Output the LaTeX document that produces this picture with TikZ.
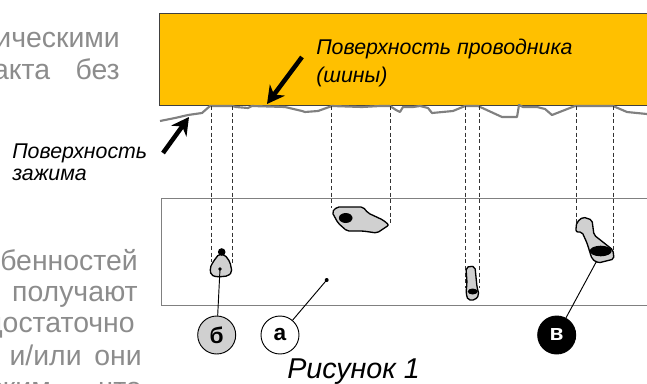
\documentclass[tikz,border=0pt]{standalone}
\usepackage{fontspec}
\usepackage{xcolor}
\setmainfont{Liberation Sans}
\usetikzlibrary{arrows.meta}
\definecolor{busyellow}{RGB}{255, 192, 0}
\definecolor{bodygrey}{RGB}{140, 140, 140}
\definecolor{roughgrey}{RGB}{128, 128, 128}
\definecolor{spotgrey}{RGB}{208, 208, 208}
\tikzset{
    bodytext/.style={text=bodygrey, font=\fontsize{21.3}{24}\selectfont, anchor=base east, inner sep=0pt},
    labeltext/.style={font=\fontsize{16}{18}\selectfont\itshape, align=left, anchor=base west, inner sep=0pt},
    guideline/.style={densely dashed, line width=0.45pt, color=black!80},
    spotshape/.style={draw=black, fill=spotgrey, line width=1pt, rounded corners=1.5pt},
    markcircle/.style={circle, draw=black, line width=0.7pt, minimum size=28.5pt, inner sep=0pt, font=\fontsize{17}{17}\selectfont\bfseries},
    boldarrow/.style={line width=3.4pt, -{Stealth[length=13pt, width=14pt]}},
    leaderline/.style={line width=0.7pt}
}
\begin{document}
\begin{tikzpicture}[x=0.75pt, y=-0.75pt]
    \useasboundingbox (0,0) rectangle (647,383);

    % Text behind the figure
    \node[bodytext] (textA) at (120,47) {ическими};
    \node[bodytext] (textB) at (120,79) {акта\hspace{0.9em}без};
    \node[bodytext] (textC) at (138,270) {бенностей};
    \node[bodytext] (textD) at (138,301) {получают};
    \node[bodytext] (textE) at (135,332) {достаточно};
    \node[bodytext] (textF) at (142,365) {и/или\hspace{0.45em}они};
    \node[bodytext] (textG) at (142,397) {ским,\hspace{1.4em}что};

    % Conductor
    \fill[busyellow] (159,13) rectangle (647,105);
    \draw[line width=0.7pt, color=black!75] (647,13) -- (159,13) -- (159,105) -- (647,105);

    % Clamp surface
    \draw[line width=1.6pt, color=roughgrey, line join=round]
        (160,121) -- (175,118) -- (188,115) -- (202,113) -- (210,106) -- (232,106) -- (236,107)
        -- (248,108) -- (252,106) -- (285,107) -- (302,111) -- (305,112) -- (318,111) -- (332,106)
        -- (362,107) -- (380,106) -- (390,106) -- (396,110) -- (400,112) -- (403,107) -- (413,107)
        -- (420,106) -- (428,108) -- (432,113) -- (453,111) -- (465,106) -- (478,106) -- (502,117)
        -- (517,117) -- (519,105) -- (523,107) -- (537,107) -- (545,109) -- (552,115) -- (575,106)
        -- (613,106) -- (627,112) -- (647,114);

    % Lower body
    \draw[line width=1pt, color=black!50] (647,198.5) -- (161.5,198.5) -- (161.5,305.5) -- (647,305.5);

    % Dashed guides
    \foreach \x/\y in {211/262, 232/264, 331/208, 390/225, 465/288, 479/288, 576/224, 613.5/252} {
        \draw[guideline] (\x,106) -- (\x,\y);
    }

    % Spots
    \draw[spotshape] (210,268) -- (213,262) -- (219,254) -- (225,255) -- (230,262) -- (232,272)
        -- (228,276) -- (217,277) -- (211,275) -- cycle;
    \fill (221.7,252) circle (3.8);
    \draw[spotshape] (332,212) -- (337,207) -- (350,207) -- (363,207) -- (368,213) -- (383,220)
        -- (389,225) -- (377,233) -- (363,231) -- (347,231) -- (338,223) -- cycle;
    \fill (345.7,218) ellipse (6.8 and 5);
    \draw[spotshape] (466,268) -- (470,266) -- (475,267) -- (477,287) -- (479,295) -- (475,300)
        -- (468,300) -- (466,293) -- (467,283) -- cycle;
    \fill (472.7,291.5) ellipse (5 and 3);
    \draw[spotshape] (577,222) -- (583,217) -- (592,220) -- (594,235) -- (613,250) -- (614,259)
        -- (598,263) -- (592,259) -- (587,243) -- (582,232) -- (576,232) -- (576,227) -- cycle;
    \fill (600.7,251) ellipse (11 and 5.3);

    % Bold arrows and their labels
    \coordinate (busTail) at (302,57);
    \coordinate (busTip) at (267,104);
    \coordinate (clampTail) at (163,153);
    \coordinate (clampTip) at (189,117);
    \draw[boldarrow] (busTail) -- (busTip);
    \draw[boldarrow] (clampTail) -- (clampTip);
    \node[labeltext] (busLabel) at (316,54) {Поверхность проводника};
    \node[labeltext] (shinaLabel) at (316,82) {(шины)};
    \node[labeltext] (clampLabel) at (12,158) {Поверхность};
    \node[labeltext] (zazhimLabel) at (12,180) {зажима};

    % Marked circles
    \node[markcircle, fill=spotgrey] (markB) at (216.7,335) {б};
    \node[markcircle, fill=white] (markA) at (280,335) {а};
    \node[markcircle, fill=black, text=white] (markV) at (556.7,335) {в};
    \coordinate (spotB) at (220,269);
    \coordinate (pointA) at (326.7,280);
    \coordinate (spotV) at (596.7,261);
    \fill (spotB) circle (1.8);
    \fill (pointA) circle (2);
    \draw[leaderline] (spotB) -- (markB);
    \draw[leaderline] (pointA) -- (markA);
    \draw[leaderline] (spotV) -- (markV);

    % Caption
    \node[anchor=base west, inner sep=0pt, font=\fontsize{21.5}{24}\selectfont\itshape] (caption) at (287,378) {Рисунок 1};
\end{tikzpicture}
\end{document}
